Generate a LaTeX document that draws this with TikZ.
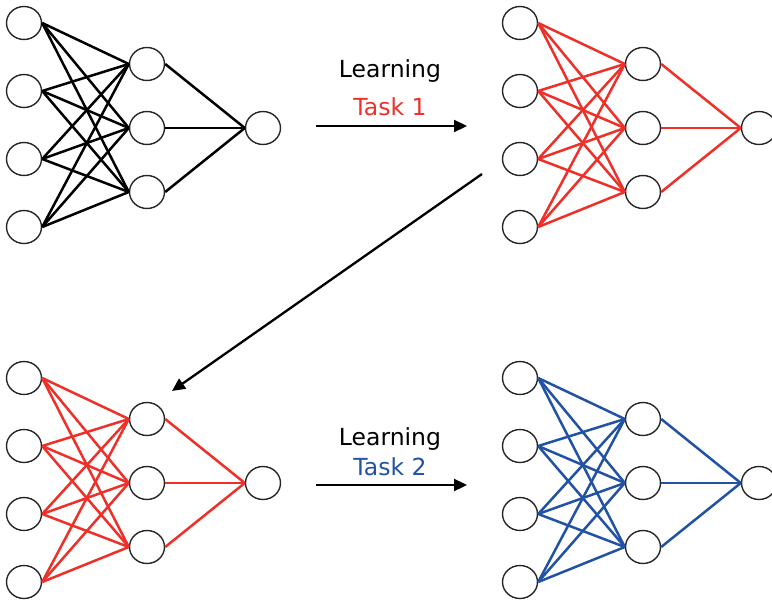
\documentclass[tikz,border=0pt]{standalone}
\usepackage{fontspec}
\setmainfont{DejaVu Sans}
\usetikzlibrary{shapes.geometric,arrows.meta}

\definecolor{taskred}{RGB}{238,48,40}
\definecolor{taskblue}{RGB}{33,82,163}

\tikzset{
  neuron/.style={ellipse, draw=black!85, line width=1.4pt, fill=white,
                 minimum width=35pt, minimum height=33pt, inner sep=0pt},
  synapse/.style={line width=2.5pt},
  flow/.style={line width=2.3pt, -{Triangle[length=13pt,width=12pt]}},
  caption/.style={anchor=base, inner sep=0pt, font=\fontsize{23.5}{28}\selectfont}
}

% #1 prefix, #2 x shift, #3 y shift, #4 edge colour
\newcommand{\drawnetwork}[4]{%
  \begin{scope}[shift={(#2,#3)}]
    \foreach \k/\yy in {1/23,2/91,3/159,4/227}
      \node[neuron] (#1i\k) at (24,\yy) {};
    \foreach \k/\yy in {1/64,2/128,3/192}
      \node[neuron] (#1h\k) at (147,\yy) {};
    \node[neuron] (#1o) at (263,128) {};
    \foreach \a in {1,...,4}
      \foreach \b in {1,2,3}
        \draw[synapse, #4] (#1i\a.east) -- (#1h\b.west);
    \foreach \b in {1,2,3}
      \draw[synapse, #4] (#1h\b.east) -- (#1o.west);
  \end{scope}
}

\begin{document}
\begin{tikzpicture}[x=1pt, y=-1pt]
  \useasboundingbox (0,0) rectangle (772,602);

  \drawnetwork{A}{0}{0}{black}
  \drawnetwork{B}{496}{0}{taskred}
  \drawnetwork{C}{0}{355}{taskred}
  \drawnetwork{D}{496}{355}{taskblue}

  % first training step
  \node[caption] (learnA) at (390,78) {Learning};
  \node[caption, text=taskred] (taskA) at (390,115) {Task 1};
  \coordinate (arrAs) at (316,126);
  \coordinate (arrAe) at (467,126);
  \draw[flow] (arrAs) -- (arrAe);

  % carry the trained network over
  \coordinate (arrCs) at (482,174);
  \coordinate (arrCe) at (172,391);
  \draw[flow] (arrCs) -- (arrCe);

  % second training step
  \node[caption] (learnB) at (390,445) {Learning};
  \node[caption, text=taskblue] (taskB) at (390,475) {Task 2};
  \coordinate (arrBs) at (316,485);
  \coordinate (arrBe) at (467,485);
  \draw[flow] (arrBs) -- (arrBe);
\end{tikzpicture}
\end{document}
